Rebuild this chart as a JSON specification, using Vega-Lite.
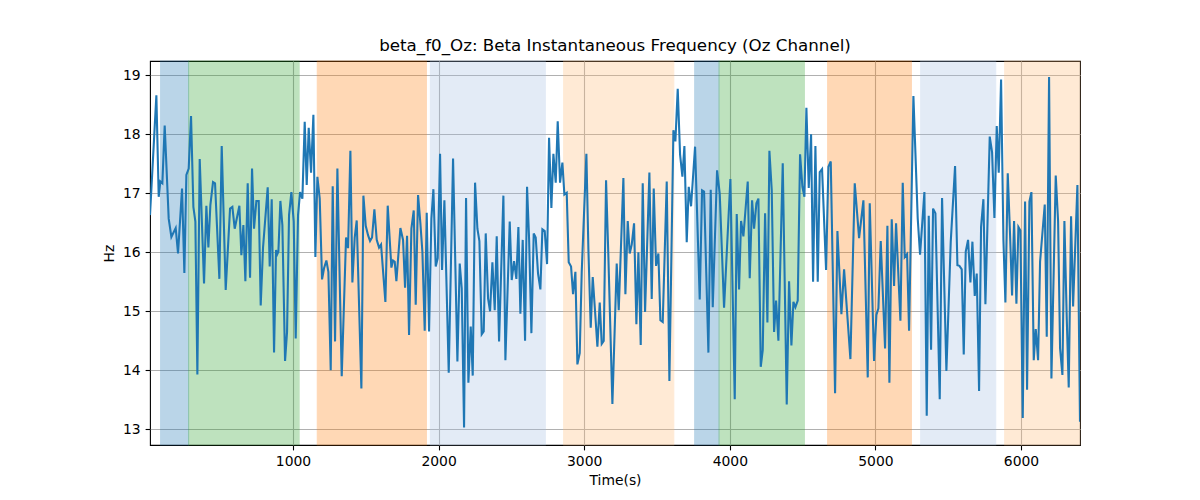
{
  "$schema": "https://vega.github.io/schema/vega-lite/v6.json",
  "width": 930,
  "height": 384,
  "autosize": {"type": "none"},
  "padding": {"left": 150, "top": 61, "right": 120, "bottom": 55},
  "background": "white",
  "config": {
    "font": "DejaVu Sans",
    "view": {"stroke": "black", "strokeWidth": 1.1},
    "axis": {
      "labelFont": "DejaVu Sans", "labelFontSize": 13.9, "labelColor": "black",
      "titleFont": "DejaVu Sans", "titleFontSize": 13.9, "titleFontWeight": "normal", "titleColor": "black",
      "domain": false, "tickColor": "black", "tickWidth": 1.1, "tickSize": 4.9, "labelPadding": 4.9,
      "grid": true, "gridColor": "#b0b0b0", "gridWidth": 1.1
    }
  },
  "title": {"text": "beta_f0_Oz: Beta Instantaneous Frequency (Oz Channel)", "font": "DejaVu Sans", "fontSize": 16.7, "fontWeight": "normal", "color": "black", "offset": 6},
  "datasets": {
    "bands": [
      {"start": 91, "end": 283, "phase": "A"},
      {"start": 283, "end": 1042, "phase": "B"},
      {"start": 1167, "end": 1916, "phase": "C"},
      {"start": 1944, "end": 2733, "phase": "D"},
      {"start": 2859, "end": 3615, "phase": "E"},
      {"start": 3759, "end": 3926, "phase": "A"},
      {"start": 3926, "end": 4512, "phase": "B"},
      {"start": 4672, "end": 5247, "phase": "C"},
      {"start": 5311, "end": 5826, "phase": "D"},
      {"start": 5888, "end": 6405, "phase": "E"}
    ],
    "series": [
      {"t": 18, "hz": 16.63}, {"t": 61.7, "hz": 18.66}, {"t": 77.8, "hz": 16.94}, {"t": 89.2, "hz": 17.2}, {"t": 102.9, "hz": 17.17},
      {"t": 118.9, "hz": 18.15}, {"t": 146.4, "hz": 16.57}, {"t": 164.8, "hz": 16.26}, {"t": 194.5, "hz": 16.41}, {"t": 210.5, "hz": 15.98},
      {"t": 238.0, "hz": 17.08}, {"t": 254.0, "hz": 15.65}, {"t": 267.8, "hz": 17.31}, {"t": 283.8, "hz": 17.42}, {"t": 299.8, "hz": 18.31},
      {"t": 315.9, "hz": 16.77}, {"t": 329.6, "hz": 16.52}, {"t": 343.3, "hz": 13.93}, {"t": 359.4, "hz": 17.58}, {"t": 389.1, "hz": 15.47},
      {"t": 405.1, "hz": 16.79}, {"t": 418.9, "hz": 16.08}, {"t": 432.6, "hz": 16.8}, {"t": 450.9, "hz": 17.19}, {"t": 464.7, "hz": 17.17},
      {"t": 494.4, "hz": 15.55}, {"t": 510.5, "hz": 17.8}, {"t": 537.9, "hz": 15.36}, {"t": 567.7, "hz": 16.74}, {"t": 583.7, "hz": 16.77},
      {"t": 599.7, "hz": 16.4}, {"t": 631.8, "hz": 16.79}, {"t": 645.5, "hz": 15.95}, {"t": 659.3, "hz": 16.46}, {"t": 673.0, "hz": 15.51},
      {"t": 689.0, "hz": 17.17}, {"t": 705.1, "hz": 15.57}, {"t": 718.8, "hz": 17.42}, {"t": 732.5, "hz": 16.4}, {"t": 748.5, "hz": 16.87},
      {"t": 764.6, "hz": 16.87}, {"t": 778.3, "hz": 15.1}, {"t": 794.3, "hz": 16.08}, {"t": 826.4, "hz": 17.1}, {"t": 840.1, "hz": 15.76},
      {"t": 853.9, "hz": 16.9}, {"t": 869.9, "hz": 14.3}, {"t": 883.6, "hz": 16.04}, {"t": 890.5, "hz": 15.96}, {"t": 899.7, "hz": 16.01},
      {"t": 913.4, "hz": 16.87}, {"t": 927.1, "hz": 16.46}, {"t": 945.5, "hz": 14.16}, {"t": 959.2, "hz": 14.65}, {"t": 972.9, "hz": 16.63},
      {"t": 988.9, "hz": 17.02}, {"t": 1005.0, "hz": 16.52}, {"t": 1018.7, "hz": 14.54}, {"t": 1034.7, "hz": 16.63}, {"t": 1048.5, "hz": 17.02},
      {"t": 1064.5, "hz": 16.91}, {"t": 1080.5, "hz": 18.21}, {"t": 1094.3, "hz": 17.14}, {"t": 1108.0, "hz": 18.11}, {"t": 1124.0, "hz": 17.35},
      {"t": 1140.1, "hz": 18.33}, {"t": 1153.8, "hz": 15.92}, {"t": 1167.5, "hz": 17.28}, {"t": 1183.6, "hz": 16.91}, {"t": 1199.6, "hz": 15.54},
      {"t": 1213.3, "hz": 15.73}, {"t": 1229.3, "hz": 15.86}, {"t": 1243.1, "hz": 15.67}, {"t": 1259.1, "hz": 14.0}, {"t": 1272.8, "hz": 17.12},
      {"t": 1288.9, "hz": 14.49}, {"t": 1304.9, "hz": 17.42}, {"t": 1334.7, "hz": 13.9}, {"t": 1364.4, "hz": 16.25}, {"t": 1378.2, "hz": 16.07},
      {"t": 1394.2, "hz": 17.72}, {"t": 1407.9, "hz": 15.49}, {"t": 1423.9, "hz": 16.25}, {"t": 1437.7, "hz": 16.54}, {"t": 1469.7, "hz": 13.69},
      {"t": 1483.5, "hz": 16.96}, {"t": 1499.5, "hz": 16.45}, {"t": 1515.5, "hz": 16.29}, {"t": 1529.3, "hz": 16.19}, {"t": 1543.0, "hz": 16.25},
      {"t": 1559.0, "hz": 16.73}, {"t": 1575.0, "hz": 16.21}, {"t": 1591.1, "hz": 16.08}, {"t": 1604.8, "hz": 16.13}, {"t": 1634.6, "hz": 15.16},
      {"t": 1650.6, "hz": 16.79}, {"t": 1675.8, "hz": 15.74}, {"t": 1687.2, "hz": 15.86}, {"t": 1698.7, "hz": 15.84}, {"t": 1710.1, "hz": 15.51},
      {"t": 1737.6, "hz": 16.41}, {"t": 1755.9, "hz": 16.21}, {"t": 1769.7, "hz": 15.4}, {"t": 1783.4, "hz": 16.28}, {"t": 1797.1, "hz": 14.6},
      {"t": 1813.2, "hz": 16.4}, {"t": 1829.2, "hz": 16.71}, {"t": 1842.9, "hz": 15.11}, {"t": 1858.9, "hz": 16.97}, {"t": 1875.0, "hz": 16.49},
      {"t": 1888.7, "hz": 16.01}, {"t": 1904.7, "hz": 14.67}, {"t": 1918.5, "hz": 16.67}, {"t": 1934.5, "hz": 14.66}, {"t": 1950.5, "hz": 16.57},
      {"t": 1964.3, "hz": 17.07}, {"t": 1980.3, "hz": 15.76}, {"t": 1994.0, "hz": 15.9}, {"t": 2010.0, "hz": 17.67}, {"t": 2023.8, "hz": 15.7},
      {"t": 2039.8, "hz": 16.88}, {"t": 2069.6, "hz": 13.96}, {"t": 2099.3, "hz": 17.59}, {"t": 2129.1, "hz": 14.15}, {"t": 2145.1, "hz": 15.81},
      {"t": 2158.9, "hz": 15.39}, {"t": 2174.9, "hz": 13.03}, {"t": 2188.6, "hz": 16.92}, {"t": 2204.6, "hz": 13.79}, {"t": 2220.7, "hz": 14.74},
      {"t": 2234.4, "hz": 13.91}, {"t": 2250.4, "hz": 17.18}, {"t": 2266.5, "hz": 16.4}, {"t": 2280.2, "hz": 16.19}, {"t": 2296.2, "hz": 14.61},
      {"t": 2310.0, "hz": 14.66}, {"t": 2323.7, "hz": 16.32}, {"t": 2339.7, "hz": 15.22}, {"t": 2353.5, "hz": 15.0}, {"t": 2369.5, "hz": 15.83},
      {"t": 2385.5, "hz": 15.02}, {"t": 2399.2, "hz": 16.27}, {"t": 2415.3, "hz": 14.49}, {"t": 2445.0, "hz": 16.96}, {"t": 2458.8, "hz": 14.17},
      {"t": 2488.5, "hz": 16.52}, {"t": 2502.2, "hz": 15.53}, {"t": 2518.2, "hz": 15.85}, {"t": 2534.2, "hz": 15.55}, {"t": 2548.0, "hz": 16.43},
      {"t": 2561.7, "hz": 14.96}, {"t": 2577.7, "hz": 16.21}, {"t": 2593.8, "hz": 14.5}, {"t": 2607.5, "hz": 17.11}, {"t": 2621.2, "hz": 16.25},
      {"t": 2637.3, "hz": 14.63}, {"t": 2653.3, "hz": 16.32}, {"t": 2667.0, "hz": 16.25}, {"t": 2683.0, "hz": 15.64}, {"t": 2699.1, "hz": 15.37},
      {"t": 2712.8, "hz": 16.39}, {"t": 2728.8, "hz": 16.36}, {"t": 2744.9, "hz": 15.8}, {"t": 2758.6, "hz": 17.94}, {"t": 2774.6, "hz": 16.75},
      {"t": 2788.4, "hz": 17.67}, {"t": 2804.4, "hz": 17.18}, {"t": 2818.1, "hz": 18.22}, {"t": 2834.1, "hz": 17.18}, {"t": 2850.2, "hz": 17.52},
      {"t": 2863.9, "hz": 16.98}, {"t": 2879.9, "hz": 17.01}, {"t": 2893.7, "hz": 15.83}, {"t": 2909.7, "hz": 15.76}, {"t": 2923.4, "hz": 15.29},
      {"t": 2939.5, "hz": 15.67}, {"t": 2953.2, "hz": 14.1}, {"t": 2969.2, "hz": 14.29}, {"t": 2983.0, "hz": 15.67}, {"t": 3015.0, "hz": 17.67},
      {"t": 3028.8, "hz": 16.05}, {"t": 3044.8, "hz": 14.72}, {"t": 3058.5, "hz": 15.58}, {"t": 3074.5, "hz": 15.0}, {"t": 3090.6, "hz": 14.4},
      {"t": 3106.6, "hz": 15.15}, {"t": 3120.3, "hz": 14.45}, {"t": 3134.1, "hz": 14.5}, {"t": 3150.1, "hz": 17.22}, {"t": 3166.1, "hz": 15.92},
      {"t": 3193.6, "hz": 13.43}, {"t": 3223.3, "hz": 15.81}, {"t": 3237.1, "hz": 15.02}, {"t": 3269.1, "hz": 17.26}, {"t": 3282.9, "hz": 15.29},
      {"t": 3298.9, "hz": 16.53}, {"t": 3312.6, "hz": 15.98}, {"t": 3326.4, "hz": 16.13}, {"t": 3342.4, "hz": 16.49}, {"t": 3358.4, "hz": 14.78},
      {"t": 3372.2, "hz": 16.0}, {"t": 3388.2, "hz": 14.43}, {"t": 3401.9, "hz": 17.17}, {"t": 3418.0, "hz": 14.99}, {"t": 3447.7, "hz": 17.35},
      {"t": 3463.7, "hz": 15.21}, {"t": 3477.5, "hz": 17.08}, {"t": 3493.5, "hz": 15.77}, {"t": 3509.5, "hz": 15.98}, {"t": 3523.3, "hz": 14.85},
      {"t": 3539.3, "hz": 14.82}, {"t": 3566.8, "hz": 17.2}, {"t": 3585.1, "hz": 13.82}, {"t": 3612.6, "hz": 18.07}, {"t": 3626.3, "hz": 17.88},
      {"t": 3642.3, "hz": 18.77}, {"t": 3658.3, "hz": 17.66}, {"t": 3674.4, "hz": 17.28}, {"t": 3688.1, "hz": 17.8}, {"t": 3704.1, "hz": 16.17},
      {"t": 3717.9, "hz": 17.11}, {"t": 3733.9, "hz": 16.78}, {"t": 3761.4, "hz": 17.79}, {"t": 3793.4, "hz": 15.2}, {"t": 3809.5, "hz": 17.05},
      {"t": 3823.2, "hz": 17.03}, {"t": 3853.0, "hz": 14.3}, {"t": 3869.0, "hz": 17.06}, {"t": 3882.7, "hz": 15.07}, {"t": 3912.5, "hz": 17.39},
      {"t": 3930.8, "hz": 16.99}, {"t": 3960.5, "hz": 15.06}, {"t": 4004.0, "hz": 17.24}, {"t": 4033.8, "hz": 13.51}, {"t": 4047.5, "hz": 16.65},
      {"t": 4063.6, "hz": 15.37}, {"t": 4077.3, "hz": 16.53}, {"t": 4093.3, "hz": 16.27}, {"t": 4123.1, "hz": 17.2}, {"t": 4136.8, "hz": 15.56},
      {"t": 4152.9, "hz": 16.88}, {"t": 4166.6, "hz": 16.4}, {"t": 4182.6, "hz": 16.83}, {"t": 4196.4, "hz": 16.91}, {"t": 4212.4, "hz": 14.06},
      {"t": 4226.1, "hz": 14.34}, {"t": 4242.2, "hz": 16.66}, {"t": 4258.2, "hz": 14.81}, {"t": 4271.9, "hz": 17.72}, {"t": 4288.0, "hz": 17.05},
      {"t": 4304.0, "hz": 14.65}, {"t": 4317.7, "hz": 15.18}, {"t": 4333.7, "hz": 14.5}, {"t": 4363.5, "hz": 17.51}, {"t": 4391.0, "hz": 13.42},
      {"t": 4407.0, "hz": 15.51}, {"t": 4423.0, "hz": 14.42}, {"t": 4436.8, "hz": 15.16}, {"t": 4450.5, "hz": 15.07}, {"t": 4466.5, "hz": 15.18},
      {"t": 4482.5, "hz": 17.66}, {"t": 4498.6, "hz": 17.11}, {"t": 4512.3, "hz": 16.94}, {"t": 4526.0, "hz": 18.45}, {"t": 4542.1, "hz": 17.09},
      {"t": 4558.1, "hz": 18.0}, {"t": 4571.8, "hz": 15.5}, {"t": 4587.9, "hz": 17.8}, {"t": 4603.9, "hz": 15.5}, {"t": 4617.6, "hz": 17.36},
      {"t": 4633.6, "hz": 17.41}, {"t": 4661.1, "hz": 15.7}, {"t": 4677.1, "hz": 17.45}, {"t": 4693.2, "hz": 17.54}, {"t": 4722.9, "hz": 13.61},
      {"t": 4739.0, "hz": 16.36}, {"t": 4766.4, "hz": 14.95}, {"t": 4784.8, "hz": 15.71}, {"t": 4828.2, "hz": 14.19}, {"t": 4858.0, "hz": 17.17},
      {"t": 4887.8, "hz": 16.24}, {"t": 4917.5, "hz": 16.88}, {"t": 4947.3, "hz": 13.88}, {"t": 4961.0, "hz": 16.83}, {"t": 4990.7, "hz": 14.16},
      {"t": 5006.7, "hz": 14.94}, {"t": 5020.5, "hz": 15.05}, {"t": 5036.5, "hz": 16.19}, {"t": 5066.3, "hz": 14.37}, {"t": 5082.3, "hz": 16.45},
      {"t": 5096.0, "hz": 13.79}, {"t": 5112.0, "hz": 16.56}, {"t": 5128.1, "hz": 15.43}, {"t": 5141.8, "hz": 16.49}, {"t": 5171.6, "hz": 14.84},
      {"t": 5187.6, "hz": 17.18}, {"t": 5201.3, "hz": 15.92}, {"t": 5217.4, "hz": 15.97}, {"t": 5231.1, "hz": 14.67}, {"t": 5260.9, "hz": 18.65},
      {"t": 5290.6, "hz": 16.57}, {"t": 5306.6, "hz": 15.96}, {"t": 5336.4, "hz": 17.02}, {"t": 5352.4, "hz": 13.23}, {"t": 5366.2, "hz": 16.62},
      {"t": 5382.2, "hz": 14.35}, {"t": 5395.9, "hz": 16.74}, {"t": 5412.0, "hz": 16.66}, {"t": 5441.7, "hz": 13.51}, {"t": 5457.7, "hz": 16.92},
      {"t": 5487.5, "hz": 13.99}, {"t": 5517.3, "hz": 16.18}, {"t": 5547.0, "hz": 17.46}, {"t": 5563.1, "hz": 15.78}, {"t": 5576.8, "hz": 15.77},
      {"t": 5592.8, "hz": 15.71}, {"t": 5606.6, "hz": 14.27}, {"t": 5620.3, "hz": 16.01}, {"t": 5636.3, "hz": 16.21}, {"t": 5652.4, "hz": 15.49},
      {"t": 5666.1, "hz": 16.18}, {"t": 5682.1, "hz": 15.26}, {"t": 5695.8, "hz": 15.64}, {"t": 5711.9, "hz": 13.65}, {"t": 5725.6, "hz": 16.43},
      {"t": 5741.6, "hz": 16.9}, {"t": 5755.4, "hz": 15.12}, {"t": 5785.1, "hz": 17.96}, {"t": 5801.1, "hz": 17.7}, {"t": 5817.2, "hz": 16.58},
      {"t": 5833.2, "hz": 18.14}, {"t": 5846.9, "hz": 17.35}, {"t": 5863.0, "hz": 18.93}, {"t": 5879.0, "hz": 16.21}, {"t": 5892.7, "hz": 15.15},
      {"t": 5908.8, "hz": 17.34}, {"t": 5924.8, "hz": 16.29}, {"t": 5938.5, "hz": 15.27}, {"t": 5952.2, "hz": 16.53}, {"t": 5968.3, "hz": 15.13},
      {"t": 5982.0, "hz": 16.43}, {"t": 5995.7, "hz": 16.37}, {"t": 6011.8, "hz": 13.19}, {"t": 6027.8, "hz": 16.86}, {"t": 6041.5, "hz": 13.67},
      {"t": 6057.6, "hz": 16.86}, {"t": 6071.3, "hz": 17.02}, {"t": 6087.3, "hz": 14.17}, {"t": 6101.1, "hz": 14.7}, {"t": 6117.1, "hz": 14.17},
      {"t": 6130.8, "hz": 15.84}, {"t": 6162.9, "hz": 16.81}, {"t": 6176.6, "hz": 14.57}, {"t": 6192.6, "hz": 18.97}, {"t": 6208.7, "hz": 13.86},
      {"t": 6238.4, "hz": 17.3}, {"t": 6254.5, "hz": 16.53}, {"t": 6268.2, "hz": 14.37}, {"t": 6284.2, "hz": 13.92}, {"t": 6297.9, "hz": 16.53},
      {"t": 6314.0, "hz": 14.88}, {"t": 6327.7, "hz": 13.71}, {"t": 6343.7, "hz": 16.61}, {"t": 6357.5, "hz": 15.08}, {"t": 6387.2, "hz": 17.14},
      {"t": 6405, "hz": 13.13}
    ]
  },
  "layer": [
    {
      "data": {"name": "bands"},
      "mark": {"type": "rect", "opacity": 0.3, "strokeWidth": 1.1},
      "encoding": {
        "x": {"field": "start", "type": "quantitative", "scale": {"domain": [18, 6405], "nice": false, "zero": false},
              "axis": {"title": "Time(s)", "values": [1000, 2000, 3000, 4000, 5000, 6000], "format": "d", "titlePadding": 5}},
        "x2": {"field": "end"},
        "color": {"field": "phase", "type": "nominal", "legend": null,
                  "scale": {"domain": ["A", "B", "C", "D", "E"], "range": ["#1f77b4", "#2ca02c", "#ff7f0e", "#a5c0e4", "#ffbb78"]}},
        "stroke": {"field": "phase", "type": "nominal", "legend": null,
                  "scale": {"domain": ["A", "B", "C", "D", "E"], "range": ["#1f77b4", "#2ca02c", "#ff7f0e", "#a5c0e4", "#ffbb78"]}}
      }
    },
    {
      "data": {"name": "series"},
      "mark": {"type": "line", "color": "#1f77b4", "strokeWidth": 2.08, "clip": true},
      "encoding": {
        "x": {"field": "t", "type": "quantitative"},
        "y": {"field": "hz", "type": "quantitative", "scale": {"domain": [12.734, 19.242], "nice": false, "zero": false},
              "axis": {"title": "Hz", "values": [13, 14, 15, 16, 17, 18, 19], "titlePadding": 6}}
      }
    }
  ]
}
